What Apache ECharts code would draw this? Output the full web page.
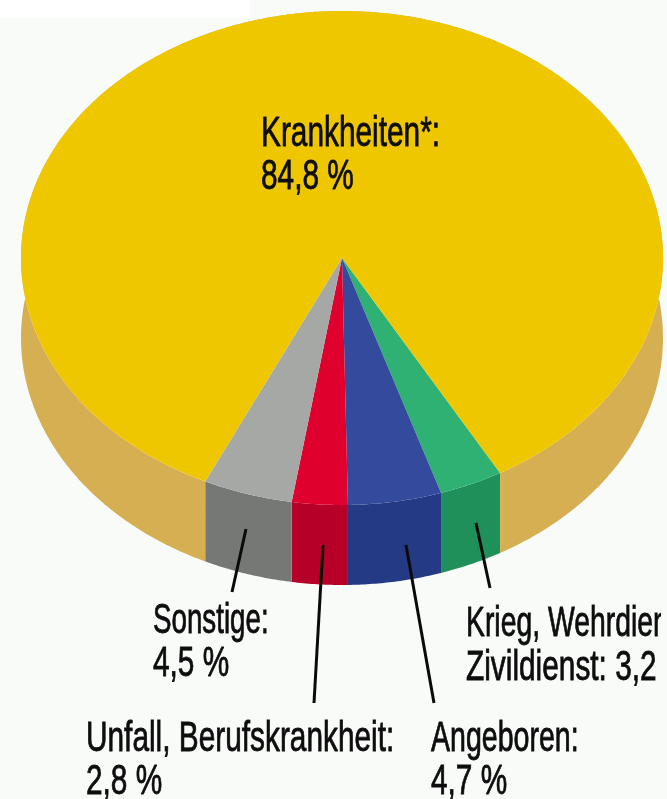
<!DOCTYPE html>
<html>
<head>
<meta charset="utf-8">
<style>html,body{margin:0;padding:0;background:#f8fbf8}#main{width:667px;height:799px}</style>
<script src="https://cdn.jsdelivr.net/npm/echarts@6/dist/echarts.min.js"></script>
</head>
<body>
<div id="main"></div>
<script>
// order runs clockwise on screen, starting at the right edge of the small wedge
var categories = ['Krieg, Wehrdienst, Zivildienst', 'Angeboren', 'Unfall, Berufskrankheit', 'Sonstige', 'Krankheiten'];
var values = [3.2, 4.7, 2.8, 4.5, 84.8];
var topColors = ['#2fb174', '#344a9c', '#e0002d', '#a6a8a5', '#efc700'];
var sideColors = ['#1f9059', '#243a85', '#b70028', '#767875', '#d5af52'];
var labelFirst = ['Krieg, Wehrdien', 'Angeboren:', 'Unfall, Berufskrankheit:', 'Sonstige:', 'Krankheiten*:'];
var labelSecond = ['Zivildienst: 3,2', '4,7 %', '2,8 %', '4,5 %', '84,8 %'];

// pie geometry in pixels
var cx = 342, cy = 258, rx = 321, ry = 247, depth = 80, startDeg = -29.5;

var total = values.reduce(function (a, b) { return a + b; }, 0);

function rimPoint(api, deg) {
    var a = deg * Math.PI / 180;
    return api.coord([-Math.sin(a), Math.cos(a)]);
}

function sliceRange(i) {
    var from = startDeg;
    for (var k = 0; k < i; k++) from += values[k] / total * 360;
    return [from, from + values[i] / total * 360];
}

function renderSide(params, api) {
    var r = sliceRange(api.value(0));
    var upper = [], lower = [];
    for (var d = r[0]; d < r[1]; d += 0.5) {
        var p = rimPoint(api, d);
        upper.push(p);
        lower.unshift([p[0], p[1] + depth]);
    }
    var end = rimPoint(api, r[1]);
    upper.push(end);
    lower.unshift([end[0], end[1] + depth]);
    return {
        type: 'polygon',
        shape: { points: upper.concat(lower) },
        style: { fill: sideColors[api.value(0)] }
    };
}

function renderTop(params, api) {
    var r = sliceRange(api.value(0));
    var pts = [api.coord([0, 0])];
    for (var d = r[0]; d < r[1]; d += 0.5) pts.push(rimPoint(api, d));
    pts.push(rimPoint(api, r[1]));
    return {
        type: 'polygon',
        shape: { points: pts },
        style: { fill: topColors[api.value(0)] }
    };
}

var seriesData = values.map(function (v, i) {
    return { name: categories[i], value: [i, v] };
});

// one label is two lines of narrow type: [index, x, baseline 1, baseline 2, squeeze of line 1]
var labelPos = [
    [0, 466, 637, 681, 0.675],
    [1, 431, 752, 795, 0.68],
    [2, 86, 752, 795, 0.71],
    [3, 153, 634, 677, 0.66],
    [4, 261, 147, 190, 0.71]
];
var leaders = [
    [476, 523, 490, 588],
    [406, 545, 434, 703],
    [323, 545, 314, 703],
    [246, 529, 232, 592]
];

var FONT = '42px "Liberation Sans Narrow", "Liberation Sans", sans-serif';

function textEl(str, x, base, squeeze) {
    return {
        type: 'text', x: x, y: base + 11, scaleX: squeeze, z: 10,
        style: {
            text: str, font: FONT, fill: '#0d0d0d', stroke: '#0d0d0d', lineWidth: 0.8,
            verticalAlign: 'bottom', align: 'left', lineHeight: 48
        }
    };
}

var graphics = [
    { type: 'rect', z: -1, shape: { x: 0, y: 0, width: 250, height: 18 }, style: { fill: '#ffffff' } }
];
leaders.forEach(function (l) {
    graphics.push({
        type: 'line', z: 9,
        shape: { x1: l[0], y1: l[1], x2: l[2], y2: l[3] },
        style: { stroke: '#0a0a0a', lineWidth: 3 }
    });
});
labelPos.forEach(function (p) {
    graphics.push(textEl(labelFirst[p[0]], p[1], p[2], p[4]));
    graphics.push(textEl(labelSecond[p[0]], p[1], p[3], 0.71));
});
// the source picture is cut off at the right
graphics.push({ type: 'rect', z: 11, shape: { x: 661, y: 600, width: 6, height: 45 }, style: { fill: '#f8fbf8' } });

var myChart = echarts.init(document.getElementById('main'), null, { renderer: 'canvas' });
myChart.setOption({
    animation: false,
    backgroundColor: '#f8fbf8',
    grid: { left: 0, right: 0, top: 0, bottom: 0 },
    xAxis: { type: 'value', show: false, min: -cx / rx, max: (667 - cx) / rx },
    yAxis: { type: 'value', show: false, inverse: true, min: -cy / ry, max: (799 - cy) / ry },
    graphic: graphics,
    series: [
        { type: 'custom', clip: false, z: 2, renderItem: renderSide, data: seriesData, silent: true },
        { type: 'custom', clip: false, z: 3, renderItem: renderTop, data: seriesData, silent: true }
    ]
});
</script>
</body>
</html>
